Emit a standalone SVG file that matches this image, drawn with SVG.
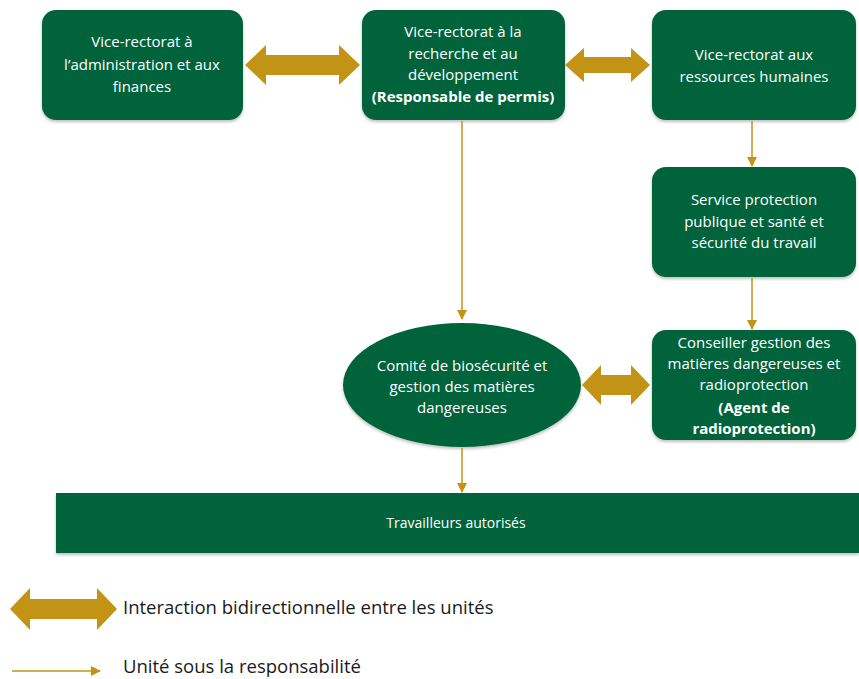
<svg xmlns="http://www.w3.org/2000/svg" width="859" height="679" viewBox="0 0 859 679">
<style>
.box{fill:#03643A;}
.t{fill:#ffffff;font-family:"Open Sans","Liberation Sans",Arial,sans-serif;font-size:15px;text-anchor:middle;}
.s{font-size:14px;}
.b{font-weight:bold;}
.dbl{fill:#C39315;}
.ln{stroke:#C39315;stroke-width:1.5;fill:none;}
.leg{fill:#1a1a1a;font-family:"Open Sans","Liberation Sans",Arial,sans-serif;font-size:18.5px;}
</style>
<defs>
<filter id="sh" x="-10%" y="-10%" width="120%" height="130%">
<feDropShadow dx="0" dy="2" stdDeviation="1.5" flood-color="#000" flood-opacity="0.25"/>
</filter>
<marker id="ah" markerWidth="10" markerHeight="10" refX="9" refY="5" orient="auto" markerUnits="userSpaceOnUse">
<path d="M0,0 L10,5 L0,10 z" fill="#C39315"/>
</marker>
</defs>

<g id="n-admin">
<rect class="box" x="42" y="10" width="201" height="110" rx="14" filter="url(#sh)"/>
<text class="t" x="142" y="47">Vice-rectorat à</text>
<text class="t" x="142" y="70">l’administration et aux</text>
<text class="t" x="142" y="92">finances</text>
</g>

<g id="n-recherche">
<rect class="box" x="362" y="10" width="203" height="110" rx="14" filter="url(#sh)"/>
<text class="t" x="463" y="37">Vice-rectorat à la</text>
<text class="t" x="463" y="59">recherche et au</text>
<text class="t" x="463" y="80">développement</text>
<text class="t b" x="463" y="102">(Responsable de permis)</text>
</g>

<g id="n-rh">
<rect class="box" x="652" y="10" width="204" height="110" rx="14" filter="url(#sh)"/>
<text class="t" x="754" y="60">Vice-rectorat aux</text>
<text class="t" x="754" y="82">ressources humaines</text>
</g>

<g id="n-service">
<rect class="box" x="652" y="167" width="204" height="110" rx="14" filter="url(#sh)"/>
<text class="t" x="754" y="205">Service protection</text>
<text class="t" x="754" y="227">publique et santé et</text>
<text class="t" x="754" y="248">sécurité du travail</text>
</g>

<g id="n-conseiller">
<rect class="box" x="652" y="330" width="204" height="110" rx="14" filter="url(#sh)"/>
<text class="t" x="754" y="348">Conseiller gestion des</text>
<text class="t" x="754" y="369">matières dangereuses et</text>
<text class="t" x="754" y="390">radioprotection</text>
<text class="t b" x="754" y="413">(Agent de</text>
<text class="t b" x="754" y="434">radioprotection)</text>
</g>

<g id="n-comite">
<ellipse class="box" cx="462" cy="385" rx="119" ry="62" filter="url(#sh)"/>
<text class="t" x="462" y="371">Comité de biosécurité et</text>
<text class="t" x="462" y="392">gestion des matières</text>
<text class="t" x="462" y="413">dangereuses</text>
</g>

<g id="n-travailleurs">
<rect class="box" x="56" y="493" width="803" height="60" filter="url(#sh)"/>
<text class="t s" x="456" y="528">Travailleurs autorisés</text>
</g>

<g id="connectors">
<path class="dbl" d="M245,65 L266,45 L266,55 L339,55 L339,45 L360,65 L339,85 L339,75 L266,75 L266,85 z"/>
<path class="dbl" d="M565,65 L584,48 L584,57 L631,57 L631,48 L650,65 L631,82 L631,73 L584,73 L584,82 z"/>
<path class="dbl" d="M582,385 L601,365 L601,375 L631,375 L631,365 L650,385 L631,405 L631,395 L601,395 L601,405 z"/>
<line class="ln" x1="462" y1="121" x2="462" y2="319" marker-end="url(#ah)"/>
<line class="ln" x1="752" y1="121" x2="752" y2="166" marker-end="url(#ah)"/>
<line class="ln" x1="752" y1="278" x2="752" y2="329" marker-end="url(#ah)"/>
<line class="ln" x1="462" y1="448" x2="462" y2="492" marker-end="url(#ah)"/>
</g>

<g id="legend">
<path class="dbl" d="M10,609 L30,588 L30,599 L97,599 L97,588 L117,609 L97,630 L97,619 L30,619 L30,630 z"/>
<text class="leg" x="123" y="614">Interaction bidirectionnelle entre les unités</text>
<line class="ln" x1="12" y1="671" x2="100" y2="671" marker-end="url(#ah)"/>
<text class="leg" x="123" y="673">Unité sous la responsabilité</text>
</g>
</svg>
